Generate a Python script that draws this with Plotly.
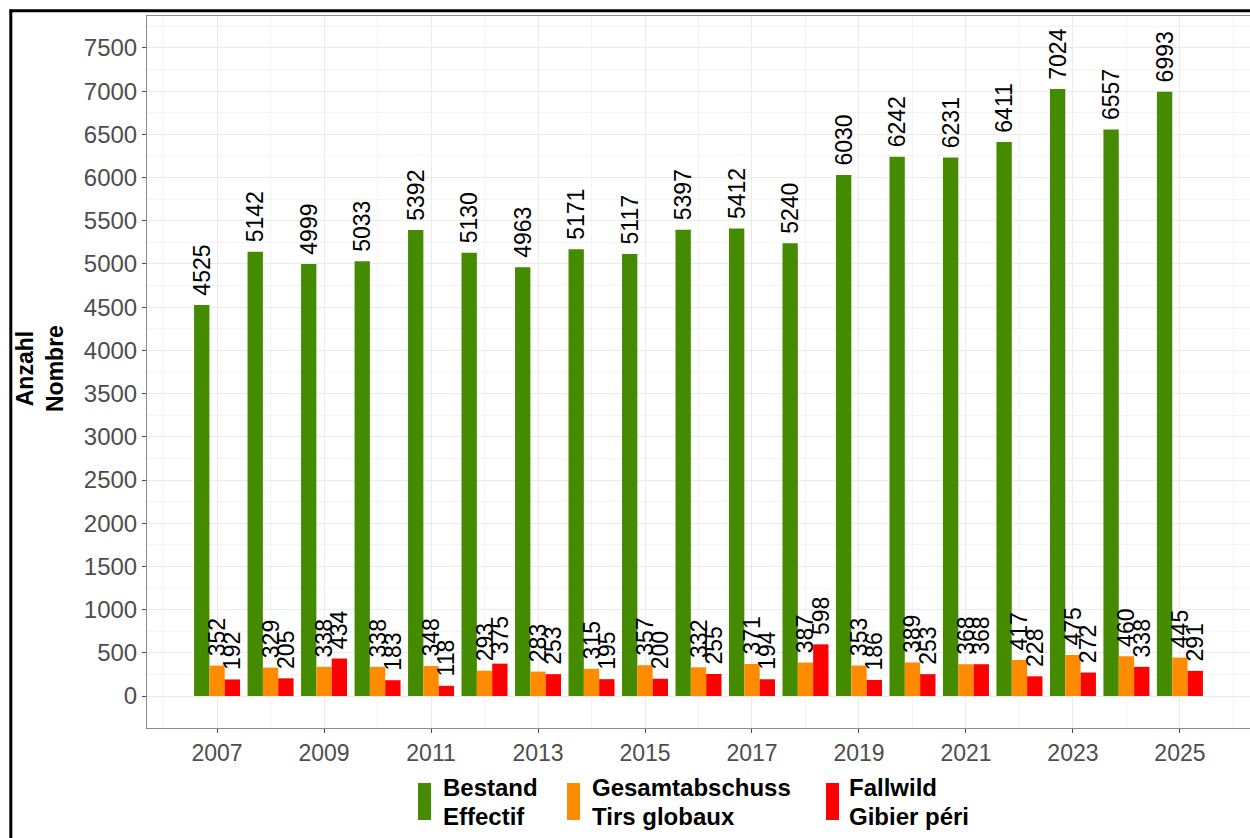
import plotly.graph_objects as go

years = list(range(2007, 2026))
bestand = [4525, 5142, 4999, 5033, 5392, 5130, 4963, 5171, 5117, 5397,
           5412, 5240, 6030, 6242, 6231, 6411, 7024, 6557, 6993]
abschuss = [352, 329, 338, 338, 348, 293, 283, 315, 357, 332,
            371, 387, 353, 389, 368, 417, 475, 460, 445]
fallwild = [192, 205, 434, 183, 118, 375, 253, 195, 200, 255,
            194, 598, 186, 253, 368, 228, 272, 338, 291]

legend_lines = [("Bestand", "Effectif"),
                ("Gesamtabschuss", "Tirs globaux"),
                ("Fallwild", "Gibier péri")]
series_values = [bestand, abschuss, fallwild]
series_colors = ["#458B00", "#FF8C00", "#FF0000"]

y_ticks = list(range(0, 7501, 500))
x_ticks = list(range(2007, 2026, 2))

FONT = "Liberation Sans, Arial, sans-serif"

W, H = 1250, 838
L, T, B = 147, 16, 110
pw = W - L
ph = H - T - B


def px(xp):
    return (xp - L) / pw


def py(yp):
    return (H - B - yp) / ph


fig = go.Figure()
for (l1, l2), vals, col in zip(legend_lines, series_values, series_colors):
    fig.add_trace(go.Bar(
        x=years, y=vals, name=f"{l1} / {l2}",
        marker=dict(color=col, line=dict(width=0)),
        text=["\u00a0" + str(v) for v in vals],
        textposition="outside",
        textangle=-90,
        constraintext="none",
        cliponaxis=False,
        textfont=dict(family=FONT, size=23, color="black"),
        showlegend=False,
    ))

# manual legend (tall ggplot-like keys)
key_x = [418, 567, 826]
text_x = [442, 591, 848]
shapes = []
annotations = []
for (l1, l2), col, kx, tx in zip(legend_lines, series_colors, key_x, text_x):
    shapes.append(dict(type="rect", xref="paper", yref="paper",
                       x0=px(kx), x1=px(kx + 13), y0=py(820), y1=py(783),
                       fillcolor=col, line=dict(width=0)))
    annotations.append(dict(text=f"<b>{l1}</b>", xref="paper", yref="paper",
                            x=px(tx), y=py(802), xanchor="left", yanchor="bottom",
                            showarrow=False, borderpad=0,
                            font=dict(family=FONT, size=24, color="black")))
    annotations.append(dict(text=f"<b>{l2}</b>", xref="paper", yref="paper",
                            x=px(tx), y=py(802), xanchor="left", yanchor="top",
                            showarrow=False, borderpad=0,
                            font=dict(family=FONT, size=24, color="black")))

annotations.append(dict(
    text="<b>Anzahl<br>Nombre</b>",
    xref="paper", yref="paper",
    x=px(40), y=py(369),
    xanchor="center", yanchor="middle",
    textangle=-90, showarrow=False,
    font=dict(family=FONT, size=23, color="black"),
))

# outer frame (left and top edges visible)
shapes.append(dict(type="line", xref="paper", yref="paper",
                   x0=px(10.8), x1=px(10.8), y0=py(H + 20), y1=py(9.5),
                   line=dict(color="black", width=3)))
shapes.append(dict(type="line", xref="paper", yref="paper",
                   x0=px(9.5), x1=px(W + 20), y0=py(10.8), y1=py(10.8),
                   line=dict(color="black", width=3)))

fig.update_layout(
    width=W, height=H,
    margin=dict(l=L, r=0, t=T, b=B, pad=0),
    paper_bgcolor="white", plot_bgcolor="white",
    barmode="group", bargap=0.14, bargroupgap=0,
    font=dict(family=FONT),
    showlegend=False,
    xaxis=dict(
        range=[2005.69, 2026.31],
        tickmode="array", tickvals=x_ticks, ticktext=[str(v) for v in x_ticks],
        tickfont=dict(family=FONT, size=23, color="#4d4d4d"),
        ticks="outside", ticklen=4, tickcolor="#4d4d4d",
        showgrid=True, gridcolor="#ebebeb", gridwidth=1,
        minor=dict(tickmode="array", tickvals=list(range(2006, 2027, 2)),
                   showgrid=True, gridcolor="#f4f4f4", gridwidth=1),
        showline=True, linecolor="#8c8c8c", linewidth=1, mirror=True,
        zeroline=False,
    ),
    yaxis=dict(
        range=[-370, 7870],
        tickmode="array", tickvals=y_ticks, ticktext=[str(v) for v in y_ticks],
        tickfont=dict(family=FONT, size=24, color="#4d4d4d"),
        ticks="outside", ticklen=4, tickcolor="#4d4d4d",
        showgrid=True, gridcolor="#ebebeb", gridwidth=1,
        minor=dict(tickmode="array", tickvals=list(range(250, 7800, 500)),
                   showgrid=True, gridcolor="#f4f4f4", gridwidth=1),
        showline=True, linecolor="#8c8c8c", linewidth=1, mirror=False,
        zeroline=False,
    ),
    annotations=annotations,
    shapes=shapes,
)

fig.write_html(
    "out.html",
    config={"displayModeBar": False},
    post_script="document.body.style.margin='0';document.body.style.overflow='hidden';",
)
